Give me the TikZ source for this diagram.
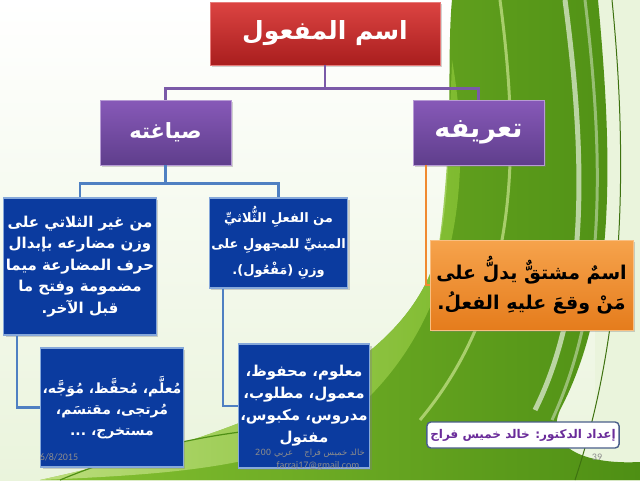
\documentclass[tikz,border=0pt]{standalone}
\usepackage{fontspec}
\setmainfont{DejaVu Sans}
\newfontfamily\ar[Script=Arabic]{DejaVu Sans}
\newfontfamily\lat{Carlito}
\TeXXeTstate=1
\usetikzlibrary{shadows}
\newcommand{\ARL}[1]{\beginR #1\endR}
\definecolor{redT}{HTML}{DC4442}
\definecolor{redB}{HTML}{A91E1E}
\definecolor{purT}{HTML}{8759B8}
\definecolor{purB}{HTML}{5F3E8C}
\definecolor{blueF}{HTML}{0B3B9F}
\definecolor{blueE}{HTML}{86A8DA}
\definecolor{oraT}{HTML}{F6A34C}
\definecolor{oraB}{HTML}{E57C1C}
\definecolor{lineP}{HTML}{7A5AA8}
\definecolor{lineB}{HTML}{4F80C2}
\definecolor{lineO}{HTML}{F08A30}
\definecolor{authT}{HTML}{6A2C9A}
\definecolor{authE}{HTML}{4A5F8A}
\definecolor{gDark}{HTML}{4E8F14}
\definecolor{gMid}{HTML}{86C232}
\definecolor{gLight}{HTML}{C9E48E}
\definecolor{gPale}{HTML}{EAF4DC}
\definecolor{footG}{HTML}{8C8C8C}
\tikzset{
  boxbase/.style={rectangle, text=white, align=center, inner sep=2pt,
    drop shadow={opacity=0.35, shadow xshift=2pt, shadow yshift=-2pt}},
  titlebox/.style={boxbase, top color=redT, bottom color=redB, draw=redT!70!white,
    line width=0.8pt, font=\ar\bfseries\fontsize{25}{30}\selectfont},
  purbox/.style={boxbase, top color=purT, bottom color=purB, draw=purT!60!white,
    line width=0.8pt, minimum width=131pt, minimum height=65pt},
  bluebox/.style={boxbase, fill=blueF, draw=blueE, line width=1.2pt},
  orabox/.style={boxbase, top color=oraT, bottom color=oraB, draw=oraT!70!white,
    text=black, line width=0.8pt},
  authbox/.style={rectangle, rounded corners=4pt, fill=white, draw=authE,
    line width=1.4pt, text=authT, font=\ar\bfseries\fontsize{12}{14}\selectfont,
    minimum width=192pt, minimum height=26pt},
  conn/.style={line width=2.2pt},
  foot/.style={text=footG, inner sep=0pt}
}
\begin{document}
\begin{tikzpicture}[x=1pt,y=-1pt]
\useasboundingbox (0,0) rectangle (640,480);
% background
\shade[top color=white, bottom color=gPale] (0,0) rectangle (640,480);
\fill[gPale] (595,0) rectangle (640,480);
\shade[left color=gMid, right color=gDark]
  (452,0) -- (598,0) .. controls (612,150) and (618,300) .. (560,410)
  .. controls (545,445) and (580,465) .. (640,462) -- (640,480) -- (40,480)
  .. controls (200,445) and (405,385) .. (438,250)
  .. controls (455,180) and (446,60) .. (452,0) -- cycle;
\shade[left color=gLight, right color=gMid, opacity=0.8]
  (40,480) .. controls (200,445) and (405,385) .. (438,250)
  .. controls (446,200) and (450,120) .. (452,60)
  .. controls (470,160) and (470,330) .. (330,430)
  .. controls (260,470) and (150,475) .. (40,480) -- cycle;
\draw[white, opacity=0.6, line width=5pt] (565,0) .. controls (585,150) and (590,300) .. (535,410);
\draw[white, opacity=0.4, line width=3pt] (585,0) .. controls (603,150) and (608,300) .. (552,420);
\draw[gLight, opacity=0.7, line width=3pt] (500,0) .. controls (520,150) and (520,300) .. (420,420);
\draw[gDark, line width=1.2pt] (60,480) .. controls (120,455) and (180,440) .. (240,432);
\draw[gDark!80!black, line width=1pt] (612,0) .. controls (628,160) and (625,330) .. (575,480);

% boxes
\node[titlebox, minimum width=230pt, minimum height=63pt] (title) at (325,33.5) {\ARL{اسم المفعول}};
\node[purbox, font=\ar\bfseries\fontsize{21}{24}\selectfont] (siyagha) at (165.5,132.5) {\ARL{صياغته}};
\node[purbox, font=\ar\bfseries\fontsize{27}{30}\selectfont] (tarif) at (478.5,132.5) {\ARL{تعريفه}};

\node[bluebox, minimum width=148pt, minimum height=137pt,
  font=\ar\bfseries\fontsize{15}{21.5}\selectfont] (b1) at (80,266.5)
  {\ARL{من غير الثلاتي على}\\ \ARL{وزن مضارعه بإبدال}\\ \ARL{حرف المضارعة ميما}\\ \ARL{مضمومة وفتح ما}\\ \ARL{قبل الآخر.}};
\node[bluebox, minimum width=131pt, minimum height=90pt,
  font=\ar\bfseries\fontsize{13}{26}\selectfont] (b2) at (278.5,243)
  {\ARL{من الفعلِ الثُّلاثيِّ}\\ \ARL{المبنيِّ للمجهولِ على}\\ \ARL{وزنِ (مَفْعُول).}};
\node[bluebox, minimum width=140pt, minimum height=119pt,
  font=\ar\bfseries\fontsize{14}{21}\selectfont] (b3) at (112,407.5)
  {\ARL{مُعلَّم، مُحفَّظ، مُوَجَّه،}\\ \ARL{مُرتجى، مقتسَم،}\\ \ARL{مستخرج، ...}};
\node[bluebox, minimum width=130pt, minimum height=124pt,
  font=\ar\bfseries\fontsize{15}{22}\selectfont] (b4) at (304,406)
  {\ARL{معلوم، محفوظ،}\\ \ARL{معمول، مطلوب،}\\ \ARL{مدروس، مكبوس،}\\ \ARL{مفتول}};
\node[orabox, minimum width=203pt, minimum height=90pt,
  font=\ar\bfseries\fontsize{19}{30}\selectfont] (def) at (531.5,285)
  {\ARL{اسمٌ مشتقٌّ يدلُّ على}\\ \ARL{مَنْ وقعَ عليهِ الفعلُ.}};
\node[authbox] (auth) at (523,435) {\ARL{إعداد الدكتور: خالد خميس فراج}};

% connectors
\draw[conn, lineP] (title.south) -- ++(0,23) coordinate (tj) -| (siyagha.north);
\draw[conn, lineP] (tj) -| (tarif.north);
\draw[conn, lineB] (siyagha.south) -- ++(0,18) coordinate (sj) -| (b1.north);
\draw[conn, lineB] (sj) -| (b2.north);
\draw[conn, lineB] ([xshift=14pt]b1.south west) |- (b3.west);
\draw[conn, lineB] ([xshift=14pt]b2.south west) |- (b4.west);
\draw[conn, lineO] ([xshift=13pt]tarif.south west) |- (def.west);

% footer
\node[foot, font=\lat\fontsize{10}{12}\selectfont] (date) at (59,457) {6/8/2015};
\node[foot, font=\lat\fontsize{10}{12}\selectfont] (page) at (597,457) {39};
\node[foot, font=\ar\fontsize{8.5}{10}\selectfont] (fa) at (310,453) {\ARL{خالد خميس فراج \quad عربي \beginL 200\endL}};
\node[foot, font=\lat\fontsize{10}{12}\selectfont] (fb) at (318,466) {farraj17@gmail.com};
\end{tikzpicture}
\end{document}
